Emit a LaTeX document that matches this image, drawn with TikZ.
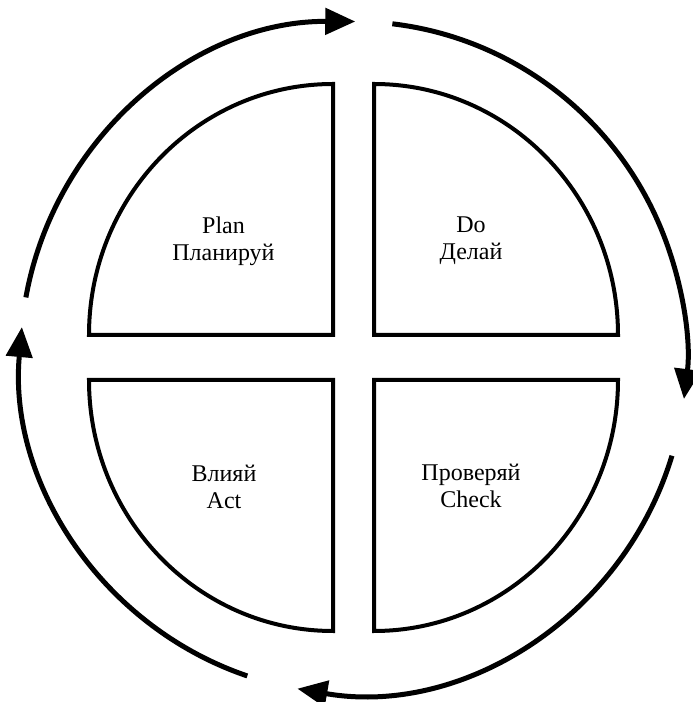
\documentclass[tikz,border=0pt]{standalone}
\usepackage{fontspec}
\setmainfont{Liberation Serif}
\usetikzlibrary{arrows.meta}

\begin{document}
\begin{tikzpicture}[x=1pt, y=1pt,
    quadrant/.style={draw=black, line width=4pt, line join=miter},
    cyclearc/.style={draw=black, line width=5pt, -{Triangle[length=30pt, width=26pt]}},
    every node/.style={font=\fontsize{24}{27}\selectfont, align=center}]
  \useasboundingbox (0,0) rectangle (693,702);
  \coordinate (mid) at (353.5,344.5);

  % four quarter discs
  \draw[quadrant] (333,367) -- (89,367)
        arc[start angle=180, end angle=90, x radius=244, y radius=251] -- cycle;
  \draw[quadrant] (374,367) -- (374,618)
        arc[start angle=90, end angle=0, x radius=244, y radius=251] -- cycle;
  \draw[quadrant] (374,322) -- (618,322)
        arc[start angle=0, end angle=-90, x radius=244, y radius=251] -- cycle;
  \draw[quadrant] (333,322) -- (333,71)
        arc[start angle=-90, end angle=-180, x radius=244, y radius=251] -- cycle;

  \node (plan)  at (223.5,461) {Plan\\Планируй};
  \node (do)    at (471,461)   {Do\\Делай};
  \node (check) at (471,216)   {Проверяй\\Check};
  \node (act)   at (224,215)   {Влияй\\Act};

  % cycle arrows round the outside
  \draw[cyclearc] ([shift={(mid)}]169.7:333pt and 336pt)
        arc[start angle=169.7, end angle=89.7, x radius=333, y radius=336];
  \draw[cyclearc] ([shift={(mid)}]83.3:333pt and 336pt)
        arc[start angle=83.3, end angle=-7.1, x radius=333, y radius=336];
  \draw[cyclearc] ([shift={(mid)}]-17:333pt and 336pt)
        arc[start angle=-17, end angle=-99.7, x radius=333, y radius=336];
  \draw[cyclearc] ([shift={(mid)}]-108.6:333pt and 336pt)
        arc[start angle=-108.6, end angle=-185.2, x radius=333, y radius=336];
\end{tikzpicture}
\end{document}
